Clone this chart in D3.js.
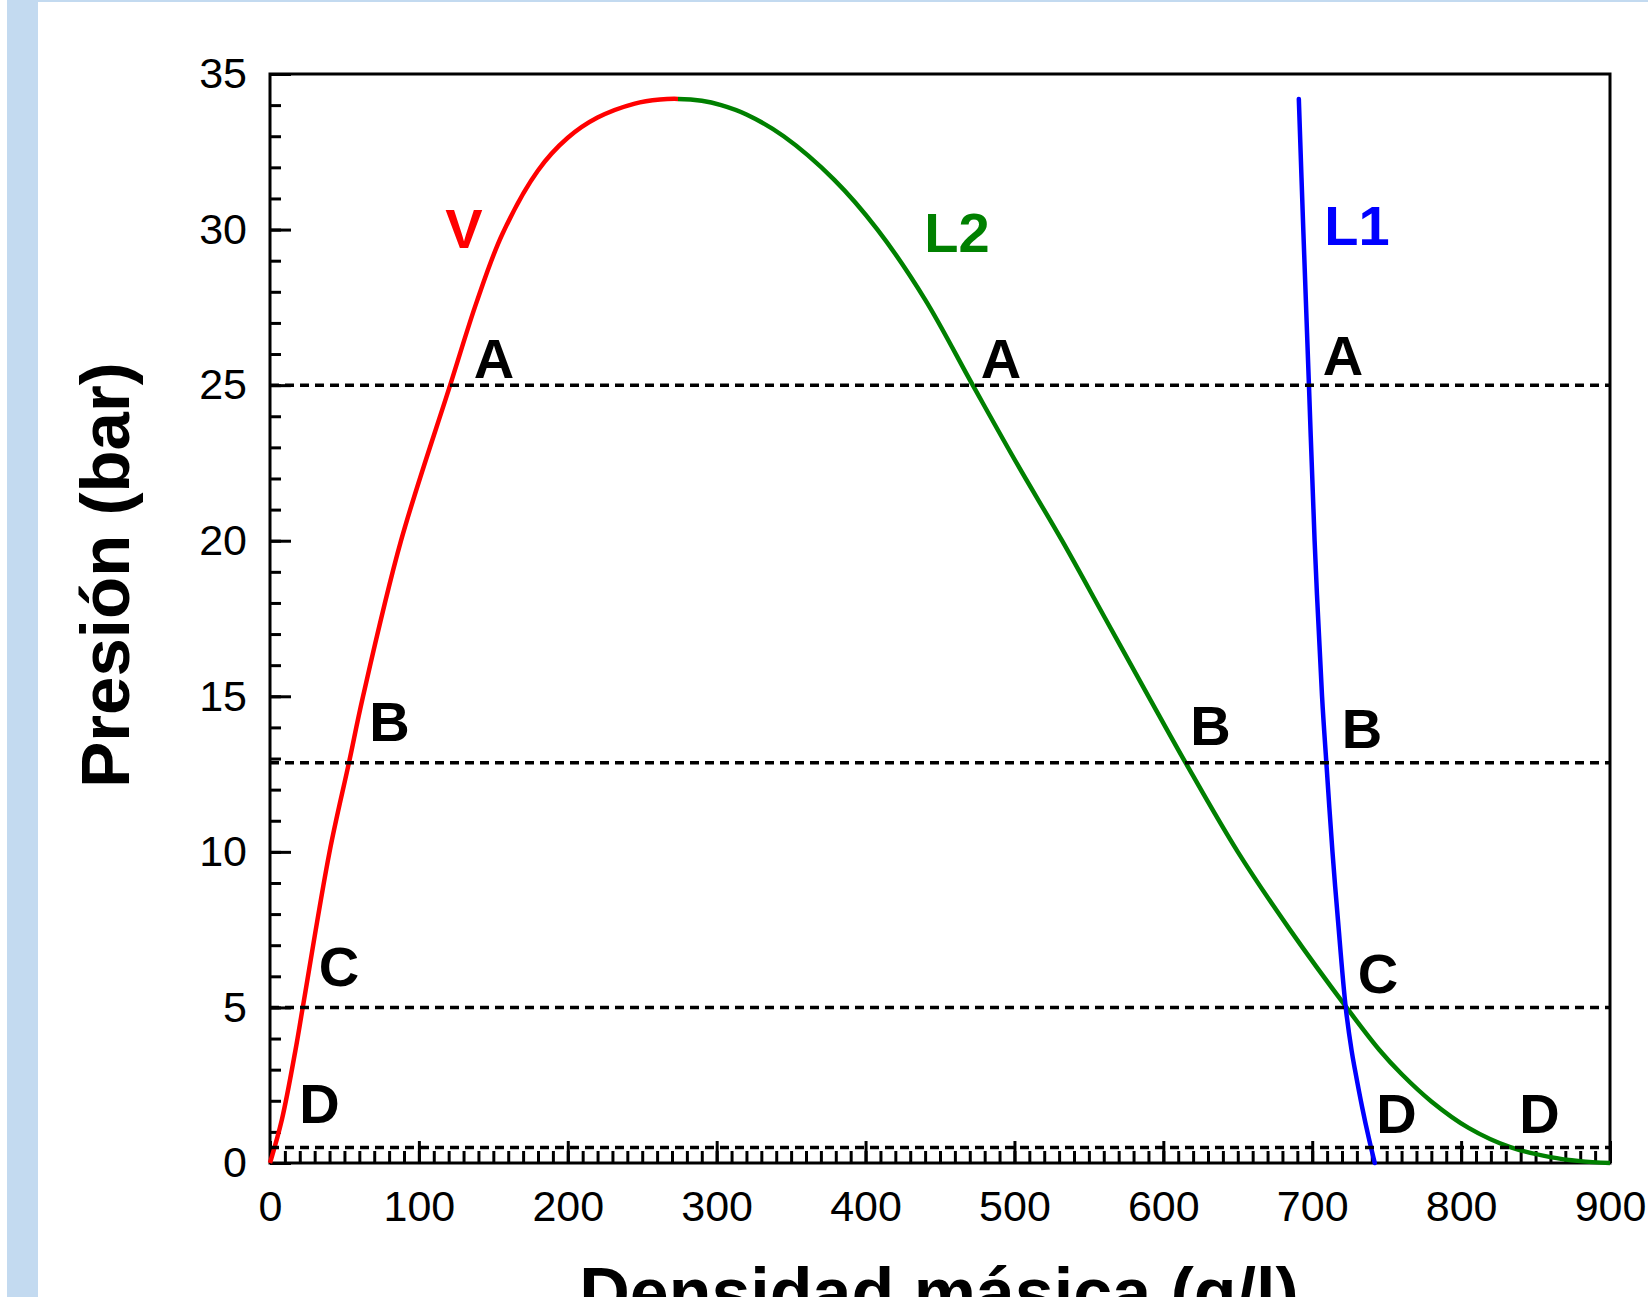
<!DOCTYPE html>
<html lang="es">
<head>
<meta charset="utf-8">
<title>Presión vs densidad másica</title>
<script src="https://d3js.org/d3.v7.min.js"></script>
<style>
  body { margin: 0; background: #fff; }
  text { font-family: "Liberation Sans", Arial, sans-serif; }
  .tick text { font-size: 43px; fill: #000; }
  .tick line { stroke: #000; stroke-width: 3px; }
  .lbl { font-size: 56px; font-weight: bold; }
</style>
</head>
<body>
<svg id="chart" width="1648" height="1297"></svg>
<script>

// ticks
var xMajor = [0, 100, 200, 300, 400, 500, 600, 700, 800, 900];
var yMajor = [0, 5, 10, 15, 20, 25, 30, 35];

// V branch (red), rho in g/l, P in bar
var vRho = [0, 8, 17, 22, 40, 53, 62.5, 88, 121, 139, 156, 180, 200, 220, 245, 262, 274];
var vP   = [0, 1.4, 3.6, 5, 10, 12.86, 15, 20, 25, 27.7, 29.85, 31.9, 32.95, 33.6, 34.05, 34.18, 34.2];

// L2 branch (green), starts right after the critical point
var l2Rho = [290, 303, 320, 345, 379, 408, 440, 472, 502, 532, 561, 590, 615, 650, 685, 723, 745, 760, 780, 805, 833, 860, 880, 900];
var l2P   = [34.14, 34.0, 33.7, 33.0, 31.6, 30, 27.75, 25, 22.45, 20, 17.5, 15, 12.86, 10, 7.5, 5, 3.64, 2.86, 1.98, 1.13, 0.51, 0.19, 0.06, 0];

// L1 branch (blue)
var l1Rho = [691, 694, 697.8, 701.6, 706.6, 709.5, 713.6, 717.3, 722.5, 726.5, 728.7, 733.5, 738, 742];
var l1P   = [34.2, 30, 25, 20, 15, 12.86, 10, 7.8, 5, 3.6, 3.0, 1.8, 0.8, 0];

var rhoCrit = 274;

// tie-line pressures A, B, C, D
var tieP = [25, 12.86, 5, 0.5];

// annotations
var lblText  = ["V", "L2", "L1", "A", "A", "A", "B", "B", "B", "C", "C", "D", "D", "D"];
var lblRho   = [130.3, 461.4, 730, 150.4, 491, 720.7, 80.3, 631.7, 733.4, 46.3, 744.2, 33.2, 756.6, 852.6];
var lblP     = [29.41, 29.28, 29.5, 25.23, 25.23, 25.33, 13.56, 13.43, 13.34, 5.69, 5.46, 1.29, 0.96, 0.96];
var lblColor = ["#ff0000", "#008000", "#0000ff", "#000", "#000", "#000", "#000", "#000", "#000", "#000", "#000", "#000", "#000", "#000"];

var svg = d3.select("#chart");

// light blue page edges
svg.append("rect").attr("x", 7).attr("y", 0).attr("width", 1641).attr("height", 2).attr("fill", "#c3daf0");
svg.append("rect").attr("x", 7).attr("y", 0).attr("width", 31).attr("height", 1297).attr("fill", "#c3daf0");

var x = d3.scaleLinear().domain([0, 900]).range([270, 1610]);
var y = d3.scaleLinear().domain([0, 35]).range([1163, 74]);

// minor ticks
svg.append("g")
   .attr("transform", "translate(0,1163)")
   .call(d3.axisBottom(x).tickValues(d3.range(0, 901, 10)).tickSize(-12).tickFormat(""))
   .call(function(g) { g.select(".domain").remove(); });
svg.append("g")
   .attr("transform", "translate(270,0)")
   .call(d3.axisLeft(y).tickValues(d3.range(0, 36, 1)).tickSize(-11).tickFormat(""))
   .call(function(g) { g.select(".domain").remove(); });

// major ticks + labels
svg.append("g")
   .attr("transform", "translate(0,1163)")
   .call(d3.axisBottom(x).tickValues(xMajor).tickSize(-22).tickPadding(27))
   .call(function(g) { g.select(".domain").remove(); });
svg.append("g")
   .attr("transform", "translate(270,0)")
   .call(d3.axisLeft(y).tickValues(yMajor).tickSize(-21).tickPadding(23))
   .call(function(g) { g.select(".domain").remove(); });

// frame
svg.append("rect")
   .attr("x", x(0)).attr("y", y(35))
   .attr("width", x(900) - x(0)).attr("height", y(0) - y(35))
   .attr("fill", "none").attr("stroke", "#000").attr("stroke-width", 3);

// dome: V + L2 as one smooth path, coloured red / green at the critical density
var grad = svg.append("defs").append("linearGradient")
   .attr("id", "dome")
   .attr("gradientUnits", "userSpaceOnUse")
   .attr("x1", x(0)).attr("x2", x(900))
   .attr("y1", 0).attr("y2", 0);
var cut = rhoCrit / 900;
grad.append("stop").attr("offset", cut).attr("stop-color", "#ff0000");
grad.append("stop").attr("offset", cut).attr("stop-color", "#008000");

function pts(r, p) { return r.map(function(d, i) { return [d, p[i]]; }); }

var line = d3.line()
   .x(function(d) { return x(d[0]); })
   .y(function(d) { return y(d[1]); })
   .curve(d3.curveCatmullRom.alpha(0.5));

svg.append("path")
   .attr("d", line(pts(vRho, vP).concat(pts(l2Rho, l2P))))
   .attr("fill", "none").attr("stroke", "url(#dome)").attr("stroke-width", 4.5);

svg.append("path")
   .attr("d", line(pts(l1Rho, l1P)))
   .attr("fill", "none").attr("stroke", "#0000ff").attr("stroke-width", 4.5).attr("stroke-linecap", "round");

// dashed tie lines
svg.selectAll(".tie")
   .data(tieP)
   .enter()
   .append("line")
   .attr("class", "tie")
   .attr("x1", x(0)).attr("x2", x(900))
   .attr("y1", function(d) { return y(d); })
   .attr("y2", function(d) { return y(d); })
   .attr("stroke", "#000").attr("stroke-width", 3.5)
   .attr("stroke-dasharray", "9,6");

// letters
svg.selectAll(".lbl")
   .data(lblText)
   .enter()
   .append("text")
   .attr("class", "lbl")
   .attr("text-anchor", "middle")
   .attr("x", function(d, i) { return x(lblRho[i]); })
   .attr("y", function(d, i) { return y(lblP[i]); })
   .attr("fill", function(d, i) { return lblColor[i]; })
   .text(function(d) { return d; });

// axis titles
svg.append("text")
   .attr("transform", "translate(129,575) rotate(-90)")
   .attr("text-anchor", "middle")
   .attr("font-size", 69).attr("font-weight", "bold")
   .text("Presión (bar)");

svg.append("text")
   .attr("x", 939).attr("y", 1317)
   .attr("text-anchor", "middle")
   .attr("font-size", 70).attr("font-weight", "bold")
   .text("Densidad másica (g/l)");

</script>
</body>
</html>
